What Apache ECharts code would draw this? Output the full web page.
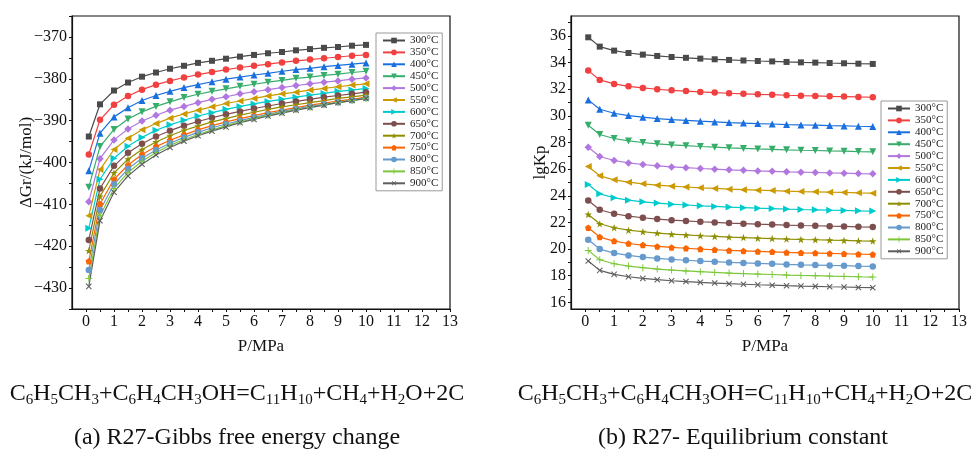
<!DOCTYPE html>
<html>
<head>
<meta charset="utf-8">
<script src="https://cdn.jsdelivr.net/npm/echarts@6/dist/echarts.min.js"></script>
<style>
  html, body { margin: 0; padding: 0; background: #fff; }
  #chart { width: 974px; height: 450px; }
</style>
</head>
<body>
<div id="chart"></div>
<script>
// Pressure points (MPa) shared by every curve
const pressure = [0.1, 0.5, 1, 1.5, 2, 2.5, 3, 3.5, 4, 4.5, 5, 5.5, 6, 6.5, 7, 7.5, 8, 8.5, 9, 9.5, 10];
const temps = ['300°C', '350°C', '400°C', '450°C', '500°C', '550°C', '600°C', '650°C', '700°C', '750°C', '800°C', '850°C', '900°C'];

// Tick labels
const pTicks = [0, 1, 2, 3, 4, 5, 6, 7, 8, 9, 10, 11, 12, 13];
const dGTicks = [-430, -420, -410, -400, -390, -380, -370];
const lgKTicks = [16, 18, 20, 22, 24, 26, 28, 30, 32, 34, 36];

// ΔGr (kJ/mol) per temperature
const dG300 = [-393.8, -386.1, -382.8, -380.9, -379.5, -378.5, -377.6, -376.9, -376.2, -375.7, -375.2, -374.7, -374.3, -373.9, -373.6, -373.2, -372.9, -372.6, -372.4, -372.1, -371.9];
const dG350 = [-398.1, -389.8, -386.2, -384.1, -382.6, -381.4, -380.5, -379.7, -379.0, -378.4, -377.8, -377.3, -376.9, -376.5, -376.1, -375.7, -375.4, -375.1, -374.8, -374.5, -374.3];
const dG400 = [-402.0, -393.0, -389.1, -386.9, -385.2, -384.0, -383.0, -382.1, -381.4, -380.7, -380.1, -379.6, -379.1, -378.7, -378.2, -377.8, -377.5, -377.1, -376.8, -376.5, -376.2];
const dG450 = [-405.9, -396.2, -392.1, -389.6, -387.9, -386.6, -385.5, -384.5, -383.7, -383.0, -382.4, -381.8, -381.3, -380.8, -380.4, -379.9, -379.6, -379.2, -378.9, -378.5, -378.2];
const dG500 = [-409.4, -399.1, -394.6, -392.0, -390.1, -388.7, -387.5, -386.6, -385.7, -384.9, -384.3, -383.6, -383.1, -382.6, -382.1, -381.6, -381.2, -380.8, -380.5, -380.1, -379.8];
const dG550 = [-412.7, -401.7, -396.9, -394.2, -392.2, -390.7, -389.4, -388.4, -387.5, -386.7, -385.9, -385.3, -384.7, -384.1, -383.6, -383.2, -382.7, -382.3, -381.9, -381.5, -381.2];
const dG600 = [-415.7, -404.0, -399.0, -396.1, -394.0, -392.3, -391.0, -389.9, -388.9, -388.1, -387.3, -386.6, -386.0, -385.4, -384.9, -384.4, -383.9, -383.5, -383.0, -382.7, -382.3];
const dG650 = [-418.5, -406.2, -400.8, -397.7, -395.5, -393.8, -392.4, -391.2, -390.2, -389.3, -388.5, -387.8, -387.1, -386.5, -385.9, -385.4, -384.9, -384.4, -384.0, -383.6, -383.2];
const dG700 = [-421.1, -408.1, -402.5, -399.2, -396.9, -395.1, -393.6, -392.3, -391.3, -390.3, -389.5, -388.7, -388.0, -387.3, -386.7, -386.2, -385.7, -385.2, -384.7, -384.3, -383.9];
const dG750 = [-423.6, -409.9, -404.0, -400.6, -398.1, -396.2, -394.7, -393.4, -392.2, -391.2, -390.3, -389.5, -388.8, -388.1, -387.5, -386.9, -386.3, -385.8, -385.3, -384.9, -384.4];
const dG800 = [-425.7, -411.4, -405.2, -401.5, -399.0, -397.0, -395.4, -394.0, -392.8, -391.7, -390.8, -390.0, -389.2, -388.5, -387.8, -387.2, -386.6, -386.1, -385.6, -385.1, -384.6];
const dG850 = [-427.7, -412.7, -406.2, -402.4, -399.7, -397.6, -395.9, -394.5, -393.3, -392.2, -391.2, -390.3, -389.5, -388.7, -388.0, -387.4, -386.8, -386.2, -385.7, -385.2, -384.7];
const dG900 = [-429.6, -413.9, -407.1, -403.2, -400.4, -398.2, -396.4, -394.9, -393.6, -392.5, -391.5, -390.5, -389.7, -388.9, -388.2, -387.5, -386.9, -386.3, -385.7, -385.2, -384.7];

// lgKp per temperature
const lgK300 = [35.90, 35.20, 34.90, 34.72, 34.60, 34.50, 34.42, 34.36, 34.30, 34.25, 34.20, 34.16, 34.12, 34.09, 34.05, 34.02, 34.00, 33.97, 33.95, 33.92, 33.90];
const lgK350 = [33.40, 32.70, 32.40, 32.22, 32.10, 32.00, 31.92, 31.86, 31.80, 31.75, 31.70, 31.66, 31.62, 31.59, 31.55, 31.52, 31.50, 31.47, 31.45, 31.42, 31.40];
const lgK400 = [31.20, 30.50, 30.20, 30.02, 29.90, 29.80, 29.72, 29.66, 29.60, 29.55, 29.50, 29.46, 29.42, 29.39, 29.35, 29.32, 29.30, 29.27, 29.25, 29.22, 29.20];
const lgK450 = [29.30, 28.60, 28.30, 28.12, 28.00, 27.90, 27.82, 27.76, 27.70, 27.65, 27.60, 27.56, 27.52, 27.49, 27.45, 27.42, 27.40, 27.37, 27.35, 27.32, 27.30];
const lgK500 = [27.65, 26.95, 26.65, 26.47, 26.35, 26.25, 26.17, 26.11, 26.05, 26.00, 25.95, 25.91, 25.87, 25.84, 25.80, 25.77, 25.75, 25.72, 25.70, 25.67, 25.65];
const lgK550 = [26.20, 25.50, 25.20, 25.02, 24.90, 24.80, 24.72, 24.66, 24.60, 24.55, 24.50, 24.46, 24.42, 24.39, 24.35, 24.32, 24.30, 24.27, 24.25, 24.22, 24.20];
const lgK600 = [24.85, 24.15, 23.85, 23.67, 23.55, 23.45, 23.37, 23.31, 23.25, 23.20, 23.15, 23.11, 23.07, 23.04, 23.00, 22.97, 22.95, 22.92, 22.90, 22.87, 22.85];
const lgK650 = [23.65, 22.95, 22.65, 22.47, 22.35, 22.25, 22.17, 22.11, 22.05, 22.00, 21.95, 21.91, 21.87, 21.84, 21.80, 21.77, 21.75, 21.72, 21.70, 21.67, 21.65];
const lgK700 = [22.60, 21.90, 21.60, 21.42, 21.30, 21.20, 21.12, 21.06, 21.00, 20.95, 20.90, 20.86, 20.82, 20.79, 20.75, 20.72, 20.70, 20.67, 20.65, 20.62, 20.60];
const lgK750 = [21.60, 20.90, 20.60, 20.42, 20.30, 20.20, 20.12, 20.06, 20.00, 19.95, 19.90, 19.86, 19.82, 19.79, 19.75, 19.72, 19.70, 19.67, 19.65, 19.62, 19.60];
const lgK800 = [20.70, 20.00, 19.70, 19.52, 19.40, 19.30, 19.22, 19.16, 19.10, 19.05, 19.00, 18.96, 18.92, 18.89, 18.85, 18.82, 18.80, 18.77, 18.75, 18.72, 18.70];
const lgK850 = [19.90, 19.20, 18.90, 18.72, 18.60, 18.50, 18.42, 18.36, 18.30, 18.25, 18.20, 18.16, 18.12, 18.09, 18.05, 18.02, 18.00, 17.97, 17.95, 17.92, 17.90];
const lgK900 = [19.10, 18.40, 18.10, 17.92, 17.80, 17.70, 17.62, 17.56, 17.50, 17.45, 17.40, 17.36, 17.32, 17.29, 17.25, 17.22, 17.20, 17.17, 17.15, 17.12, 17.10];

const dGSeries = [dG300, dG350, dG400, dG450, dG500, dG550, dG600, dG650, dG700, dG750, dG800, dG850, dG900];
const lgKSeries = [lgK300, lgK350, lgK400, lgK450, lgK500, lgK550, lgK600, lgK650, lgK700, lgK750, lgK800, lgK850, lgK900];

const colors = ['#4a4a4a', '#F14040', '#1A6FDF', '#37AD6B', '#B177DE', '#CC9900', '#00CBCC', '#7D4E4E', '#8E8E00', '#FB6501', '#6699CC', '#7CC83A', '#5e5e5e'];

const STAR = 'path://M50,0 L61.8,35.4 L98.9,35.4 L68.9,57.3 L80.3,92.7 L50,70.8 L19.7,92.7 L31.1,57.3 L1.1,35.4 L38.2,35.4 Z';
const PENTA = 'path://M50,0 L97.6,34.5 L79.4,90.5 L20.6,90.5 L2.4,34.5 Z';
const PLUS = 'path://M43,0 H57 V43 H100 V57 H57 V100 H43 V57 H0 V43 H43 Z';
const markers = [
  { symbol: 'rect', rotate: 0, size: 6 },
  { symbol: 'circle', rotate: 0, size: 6.5 },
  { symbol: 'triangle', rotate: 0, size: 7 },
  { symbol: 'triangle', rotate: 180, size: 7 },
  { symbol: 'diamond', rotate: 0, size: 7.5 },
  { symbol: 'triangle', rotate: 90, size: 7 },
  { symbol: 'triangle', rotate: -90, size: 7 },
  { symbol: 'circle', rotate: 0, size: 6.5 },
  { symbol: STAR, rotate: 0, size: 7.5 },
  { symbol: PENTA, rotate: 0, size: 6.5 },
  { symbol: 'circle', rotate: 0, size: 6.5 },
  { symbol: PLUS, rotate: 0, size: 7 },
  { symbol: PLUS, rotate: 45, size: 7.5 }
];

const FONT = '"Liberation Serif", "Times New Roman", serif';
const minus = v => String(v).replace('-', '\u2212');
const halfSteps = pTicks.flatMap(v => v < 13 ? [v, v + 0.5] : [v]);

function makeSeries(list, axisIdx) {
  return list.map((vals, i) => ({
    name: temps[i],
    type: 'line',
    xAxisIndex: axisIdx,
    yAxisIndex: axisIdx,
    data: pressure.map((p, j) => [p, vals[j]]),
    symbol: markers[i].symbol,
    symbolRotate: markers[i].rotate,
    symbolSize: markers[i].size,
    showSymbol: true,
    lineStyle: { width: 1.2, color: colors[i] },
    itemStyle: { color: colors[i] },
    emphasis: { disabled: true },
    animation: false
  }));
}

function xAxisCfg(gridIndex) {
  return {
    type: 'value', gridIndex, min: -0.5, max: 13,
    name: 'P/MPa', nameLocation: 'middle', nameGap: 29, nameMoveOverlap: false,
    nameTextStyle: { fontFamily: FONT, fontSize: 17, color: '#111' },
    axisLine: { show: true, onZero: false, lineStyle: { color: '#111', width: 1.2 } },
    axisTick: { show: true, inside: false, length: 3, customValues: halfSteps, lineStyle: { color: '#111' } },
    axisLabel: { customValues: pTicks, margin: 5, fontFamily: FONT, fontSize: 16, color: '#111' },
    splitLine: { show: false }
  };
}

function legendCfg(left, top) {
  return {
    orient: 'vertical', left, top,
    data: temps,
    itemWidth: 22, itemHeight: 7, itemGap: 0.9,
    padding: [2, 4, 2, 6],
    borderColor: '#999', borderWidth: 1,
    backgroundColor: '#fff',
    selectedMode: false,
    textStyle: { fontFamily: FONT, fontSize: 11, lineHeight: 11, color: '#222' }
  };
}

const formula = 'C{s|6}H{s|5}CH{s|3}+C{s|6}H{s|4}CH{s|3}OH=C{s|11}H{s|10}+CH{s|4}+H{s|2}O+2C';
const mainText = { fontFamily: FONT, fontSize: 24, lineHeight: 28, color: '#111', fontWeight: 'normal',
  rich: { s: { fontFamily: FONT, fontSize: 15, lineHeight: 18, verticalAlign: 'bottom', color: '#111' } } };

function titleCfg(text, cx, top) {
  return { text, left: cx, top, textAlign: 'center', padding: 0, textStyle: mainText };
}

const chart = echarts.init(document.getElementById('chart'), null, { renderer: 'canvas' });
chart.setOption({
  backgroundColor: '#fff',
  animation: false,
  title: [
    titleCfg(formula, 237, 380),
    titleCfg('(a) R27-Gibbs free energy change', 237, 424),
    titleCfg(formula, 745, 380),
    titleCfg('(b) R27- Equilibrium constant', 743, 424)
  ],
  grid: [
    { left: 72, top: 16, width: 378, height: 293, show: true, borderColor: '#111', borderWidth: 1.2, containLabel: false },
    { left: 571, top: 16, width: 388, height: 293, show: true, borderColor: '#111', borderWidth: 1.2, containLabel: false }
  ],
  xAxis: [xAxisCfg(0), xAxisCfg(1)],
  yAxis: [
    {
      type: 'value', gridIndex: 0, min: -435, max: -365,
      name: 'ΔGr/(kJ/mol)', nameLocation: 'middle', nameGap: 37, nameRotate: 90, nameMoveOverlap: false,
      nameTextStyle: { fontFamily: FONT, fontSize: 17, color: '#111' },
      axisLine: { show: true, onZero: false, lineStyle: { color: '#111', width: 1.2 } },
      axisTick: { show: true, length: 3, customValues: [-435, -430, -425, -420, -415, -410, -405, -400, -395, -390, -385, -380, -375, -370, -365], lineStyle: { color: '#111' } },
      axisLabel: { customValues: dGTicks, margin: 5, fontFamily: FONT, fontSize: 16, color: '#111', formatter: minus },
      splitLine: { show: false }
    },
    {
      type: 'value', gridIndex: 1, min: 15.5, max: 37.5,
      name: 'lgKp', nameLocation: 'middle', nameGap: 22, nameRotate: 90, nameMoveOverlap: false,
      nameTextStyle: { fontFamily: FONT, fontSize: 17, color: '#111' },
      axisLine: { show: true, onZero: false, lineStyle: { color: '#111', width: 1.2 } },
      axisTick: { show: true, length: 3, customValues: [16, 17, 18, 19, 20, 21, 22, 23, 24, 25, 26, 27, 28, 29, 30, 31, 32, 33, 34, 35, 36, 37], lineStyle: { color: '#111' } },
      axisLabel: { customValues: lgKTicks, margin: 5, fontFamily: FONT, fontSize: 16, color: '#111' },
      splitLine: { show: false }
    }
  ],
  legend: [legendCfg(376, 33), legendCfg(881, 101)],
  series: makeSeries(dGSeries, 0).concat(makeSeries(lgKSeries, 1))
});
</script>
</body>
</html>
